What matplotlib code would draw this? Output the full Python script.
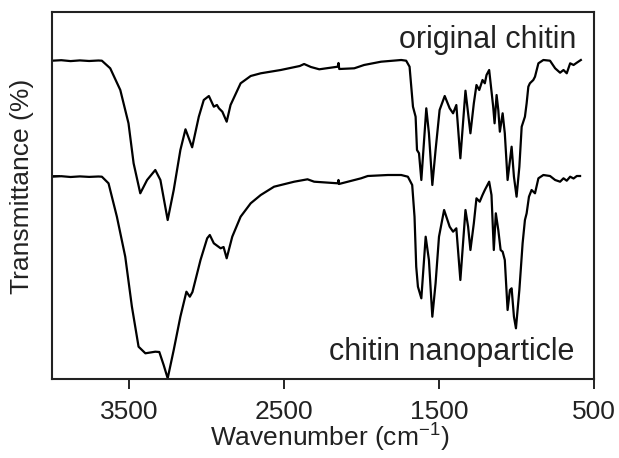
import matplotlib
matplotlib.use("Agg")
import matplotlib.pyplot as plt

plt.rcParams['font.family'] = ['Liberation Sans', 'DejaVu Sans']
plt.rcParams['mathtext.fontset'] = 'custom'
plt.rcParams['mathtext.rm'] = 'Liberation Sans'
plt.rcParams['mathtext.it'] = 'Liberation Sans:italic'

# ---- data (wavenumber in cm-1, transmittance in arbitrary units) ----
orig_wn = [4000, 3940, 3880, 3820, 3760, 3700, 3678, 3624, 3559, 3506, 3473, 3430, 3386, 3333,
           3300, 3253, 3214, 3171, 3138, 3095, 3052, 3020, 2987, 2955, 2935, 2922, 2900,
           2872, 2847, 2782, 2717, 2652, 2523, 2400, 2372, 2328, 2274, 2155, 2150, 2145,
           2048, 1985, 1875, 1745, 1713, 1691, 1669, 1652, 1643, 1630, 1615, 1583, 1566,
           1544, 1523, 1497, 1464, 1432, 1410, 1389, 1363, 1330, 1313, 1298, 1276, 1259,
           1241, 1220, 1205, 1194, 1177, 1151, 1142, 1129, 1118, 1108, 1090, 1076, 1058,
           1032, 1017, 1000, 982, 967, 946, 935, 924, 914, 892, 881, 859, 827, 784, 751,
           719, 697, 676, 654, 632, 611, 585]
orig_t = [318.3, 318.8, 317.9, 318.6, 318.0, 318.5, 318.3, 310.7, 289, 255.7, 215.7, 185.7, 199, 209,
          199, 159, 189, 229, 249.7, 231.7, 262.3, 279, 283, 272.3, 274, 270.7, 267.3,
          257.3, 274, 295.7, 303, 305.7, 309, 313, 315, 312, 309.7, 312.3, 316, 310,
          310.7, 314, 317.3, 319, 318.3, 312.3, 272.3, 262.3, 229, 225.7, 199, 270.7, 245.7,
          194, 229, 269, 283, 270.7, 265.7, 274, 220.7, 288.3, 265.7, 245.7, 275.7, 294,
          289, 299, 295.7, 304, 309, 272.3, 255.7, 284, 269, 247.3, 265.7, 245.7, 199,
          232.3, 202.3, 182.3, 212.3, 252.3, 262.3, 275.7, 292.3, 295.7, 299, 302.3, 315.7, 319, 318.3, 310.7,
          306.3, 309, 305.7, 315.7, 314, 316.3, 319]

nano_wn = [4000, 3940, 3880, 3820, 3760, 3700, 3678, 3635, 3581, 3527, 3484, 3441, 3397, 3333,
           3307, 3279, 3253, 3214, 3171, 3132, 3110, 3093, 3041, 2998, 2981, 2955, 2911,
           2892, 2872, 2836, 2782, 2717, 2652, 2566, 2436, 2350, 2307, 2155, 2150, 2147,
           2004, 1961, 1831, 1745, 1702, 1674, 1659, 1648, 1637, 1615, 1587, 1566, 1544,
           1523, 1501, 1468, 1432, 1410, 1389, 1363, 1330, 1313, 1298, 1276, 1259, 1238,
           1220, 1205, 1177, 1162, 1147, 1134, 1118, 1103, 1090, 1076, 1058, 1043, 1032,
           1017, 1004, 982, 961, 946, 935, 920, 903, 881, 859, 827, 784, 751, 719, 697,
           676, 654, 632, 611, 590]
nano_t = [202.3, 202.8, 202.0, 202.6, 202.1, 202.5, 202.3, 195.7, 162.3, 122.3, 72.3, 32.3, 25.7, 27.3,
          27, 14, 0.7, 29, 62.3, 87.3, 82.3, 87, 119, 140.7, 144, 135.7, 130.7,
          132, 120.7, 142.3, 162.3, 175.7, 184, 192.3, 197.3, 199.7, 197.3, 195.7, 199, 195,
          200.7, 203, 204, 204, 202.3, 194, 162.3, 112.3, 92.3, 80.7, 142.3, 119, 62.3,
          95.7, 142.3, 169, 152.3, 147.3, 150.7, 99, 169, 152.3, 129, 155.7, 180.7, 177.3,
          184, 189, 197.3, 184, 129, 165.7, 149, 129, 127.3, 119, 69, 89, 90.7,
          62.3, 50.7, 89, 135.7, 159, 165.7, 182.3, 189, 185.7, 200.7, 204, 203, 199, 197.3, 200.7,
          198.3, 202.3, 200.5, 203, 203]

x_ticks = [3500, 2500, 1500, 500]
labels = ["original chitin", "chitin nanoparticle"]

W, H = 619, 458
fig = plt.figure(figsize=(W / 100, H / 100), dpi=100)
ax = fig.add_axes([52 / W, 1 - 379 / H, (594 - 52) / W, (379 - 12) / H])

ax.plot(orig_wn, orig_t, color='black', lw=1.6, solid_joinstyle='round')
ax.plot(nano_wn, nano_t, color='black', lw=1.6, solid_joinstyle='round')

ax.set_xlim(4000, 500)
ax.set_ylim(0, 367)
ax.set_xticks(x_ticks)
ax.set_xticklabels([str(t) for t in x_ticks])
ax.set_yticks([203])
ax.set_yticklabels([''])
ax.tick_params(axis='x', direction='out', length=7, width=1.2, labelsize=19,
               labelcolor='#222222', pad=8)
ax.tick_params(axis='y', direction='in', length=6, width=1.2)
for s in ax.spines.values():
    s.set_linewidth(1.5)
    s.set_color('#222222')

ax.set_xlabel(r'Wavenumber (cm$^{\mathregular{-1}}$)', fontsize=19, color='#222222', va='center')
ax.xaxis.set_label_coords((330 - 52) / 542, (379 - 438) / 367)
ax.set_ylabel('Transmittance (%)', fontsize=19, color='#222222', va='center')
ax.yaxis.set_label_coords((22 - 52) / 542, (379 - 186) / 367)

ax.text(611, 339, labels[0], ha='right', va='center', fontsize=22, color='#222222')
ax.text(624, 27, labels[1], ha='right', va='center', fontsize=22, color='#222222')

fig.savefig('out.png', dpi=100)
